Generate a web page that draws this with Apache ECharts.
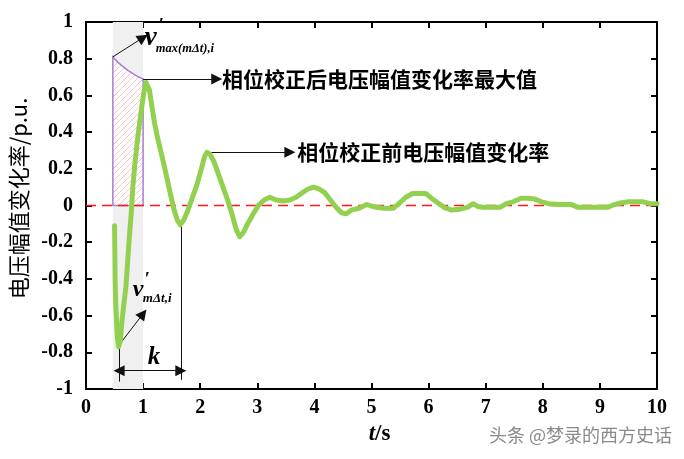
<!DOCTYPE html>
<html>
<head>
<meta charset="utf-8">
<script src="https://cdn.jsdelivr.net/npm/echarts@6/dist/echarts.min.js"></script>
<style>
  html, body { margin: 0; padding: 0; background: #fff; }
  #chart { width: 684px; height: 459px; }
</style>
</head>
<body>
<div id="chart"></div>
<script>
// 电压幅值变化率曲线 (t/s, p.u.)
const curveT = [0.50, 0.505, 0.51, 0.52, 0.535, 0.55, 0.57, 0.60, 0.63, 0.67, 0.70, 0.73, 0.76, 0.79, 0.82, 0.86, 0.91, 0.96,
  1.01, 1.05, 1.08, 1.11, 1.15, 1.20, 1.26, 1.33, 1.41, 1.48, 1.54, 1.60, 1.65, 1.71, 1.78, 1.86, 1.94,
  2.02, 2.08, 2.12, 2.17, 2.24, 2.32, 2.40, 2.48, 2.56, 2.63, 2.69, 2.75, 2.83, 2.92,
  3.02, 3.12, 3.22, 3.33, 3.45, 3.57, 3.68, 3.79, 3.89, 3.98,
  4.08, 4.18, 4.28, 4.38, 4.48, 4.56, 4.65, 4.78, 4.92,
  5.08, 5.22, 5.38, 5.48, 5.60, 5.72, 5.84, 5.95,
  6.05, 6.16, 6.27, 6.40, 6.55, 6.68, 6.78, 6.86, 6.95,
  7.10, 7.25, 7.36, 7.48, 7.62, 7.74, 7.86, 7.98,
  8.10, 8.30, 8.50, 8.62, 8.80, 9.00, 9.14, 9.25, 9.38, 9.50, 9.64, 9.76, 9.88, 10.00];
const curveV = [-0.11, -0.25, -0.40, -0.53, -0.63, -0.72, -0.77, -0.74, -0.63, -0.52, -0.44, -0.30, -0.17, -0.05, 0.10, 0.24, 0.38, 0.50,
  0.61, 0.67, 0.67, 0.63, 0.55, 0.45, 0.36, 0.27, 0.16, 0.06, -0.02, -0.08, -0.105, -0.08, -0.03, 0.04, 0.11,
  0.20, 0.27, 0.29, 0.28, 0.24, 0.17, 0.10, 0.03, -0.05, -0.13, -0.17, -0.15, -0.10, -0.05,
  0.00, 0.03, 0.045, 0.03, 0.025, 0.03, 0.045, 0.07, 0.09, 0.10,
  0.09, 0.07, 0.03, -0.01, -0.04, -0.045, -0.025, -0.015, 0.005,
  -0.01, -0.015, -0.015, 0.01, 0.045, 0.065, 0.065, 0.065,
  0.04, 0.015, -0.01, -0.025, -0.02, -0.01, 0.01, -0.005, -0.01,
  -0.01, -0.01, 0.01, 0.02, 0.04, 0.04, 0.035, 0.02,
  0.01, 0.005, 0.005, -0.01, -0.01, -0.01, -0.01, 0.005, 0.015, 0.02, 0.02, 0.02, 0.01, 0.01];

// 阴影区间 (灰色) 与 斜线填充区域上边界
const bandT = [0.47, 1.0];
const hatchT = [0.47, 0.56, 0.65, 0.74, 0.83, 0.92, 1.0];
const hatchV = [0.81, 0.78, 0.757, 0.735, 0.717, 0.70, 0.69];

// 标注箭头 [起点, 终点]
const arrows = [
  [[0.47, 0.81], [1.0, 0.915]],
  [[1.0, 0.69], [2.29, 0.69]],
  [[2.12, 0.29], [3.57, 0.29]],
  [[0.58, -0.76], [1.0, -0.59]]
];
const kArrow = [[0.58, -0.90], [1.66, -0.90]];
const guideLines = [
  [[0.58, -0.76], [0.58, -0.96]],
  [[1.66, -0.105], [1.66, -0.95]]
];

const xTicks = { min: 0, max: 10, step: 1 };
const yTicks = { min: -1, max: 1, step: 0.2 };

const curveData = curveT.map((t, i) => [t, curveV[i]]);

function makeHatch() {
  const c = document.createElement('canvas');
  c.width = 6; c.height = 6;
  const g = c.getContext('2d');
  g.fillStyle = '#fff';
  g.fillRect(0, 0, 6, 6);
  g.strokeStyle = '#f6c4cc';
  g.lineWidth = 1;
  g.beginPath();
  g.moveTo(-1, 7); g.lineTo(7, -1);
  g.moveTo(-1, 1); g.lineTo(1, -1);
  g.moveTo(5, 7); g.lineTo(7, 5);
  g.stroke();
  return c;
}
const hatchPattern = { image: makeHatch(), repeat: 'repeat' };

const serif = '"Liberation Serif", "Times New Roman", serif';
const cjk = '"Noto Sans CJK SC", sans-serif';

// 文字标注
const notes = [
  { t: 2.38, v: 0.69, kind: 'cn', text: '相位校正后电压幅值变化率最大值' },
  { t: 3.70, v: 0.29, kind: 'cn', text: '相位校正前电压幅值变化率' },
  { t: 1.03, v: 0.91, kind: 'v', sub: 'max(mΔt),i' },
  { t: 0.82, v: -0.46, kind: 'v', sub: 'mΔt,i' },
  { t: 1.19, v: -0.83, kind: 'k', text: 'k' }
];

function renderNote(params, api) {
  const a = notes[params.dataIndex];
  const p = api.coord([a.t, a.v]);
  if (a.kind === 'cn') {
    return { type: 'text', x: p[0], y: p[1], style: {
      text: a.text, fill: '#000', font: 'bold 21px ' + cjk, align: 'left', verticalAlign: 'middle' } };
  }
  if (a.kind === 'k') {
    return { type: 'text', x: p[0], y: p[1], style: {
      text: a.text, fill: '#000', font: 'italic bold 25px ' + serif, align: 'center', verticalAlign: 'middle' } };
  }
  const big = a.sub.length > 6;
  return { type: 'group', x: p[0], y: p[1], children: [
    { type: 'text', x: 0, y: 0, style: { text: 'v', fill: '#000', font: 'italic bold ' + (big ? 27 : 24) + 'px ' + serif, align: 'left', verticalAlign: 'middle' } },
    { type: 'text', x: big ? 14 : 12, y: big ? -12 : -10, style: { text: '′', fill: '#000', font: 'bold 19px ' + serif, align: 'left', verticalAlign: 'middle' } },
    { type: 'text', x: big ? 11 : 10, y: big ? 10 : 9, style: { text: a.sub, fill: '#000', font: 'italic bold ' + (big ? 12.5 : 13) + 'px ' + serif, align: 'left', verticalAlign: 'middle' } }
  ] };
}

function renderHatch(params, api) {
  const pts = [api.coord([hatchT[0], 0])];
  hatchT.forEach((t, i) => pts.push(api.coord([t, hatchV[i]])));
  pts.push(api.coord([hatchT[hatchT.length - 1], 0]));
  return { type: 'polygon', shape: { points: pts },
    style: { fill: hatchPattern, stroke: '#a77fd0', lineWidth: 1.5 } };
}

function renderZero(params, api) {
  const a = api.coord([xTicks.min, 0]);
  const b = api.coord([xTicks.max, 0]);
  return { type: 'line', shape: { x1: a[0], y1: a[1], x2: b[0], y2: b[1] },
    style: { stroke: '#ff1a1a', lineWidth: 1.5, lineDash: [10, 6] } };
}

const axisCommon = {
  type: 'value',
  axisLine: { show: true, onZero: false, lineStyle: { color: '#000', width: 2 } },
  axisTick: { show: true, inside: true, length: 6, lineStyle: { color: '#000', width: 2 } },
  splitLine: { show: false }
};

const chart = echarts.init(document.getElementById('chart'));
chart.setOption({
  animation: false,
  backgroundColor: '#fff',
  grid: { left: 86, right: 27, top: 22, bottom: 70 },
  xAxis: [
    Object.assign({}, axisCommon, {
      min: xTicks.min, max: xTicks.max, interval: xTicks.step, position: 'bottom',
      axisLabel: { color: '#000', fontFamily: serif, fontWeight: 'bold', fontSize: 20, margin: 9 },
      name: '{i|t}{n|/s}', nameLocation: 'middle', nameGap: 30,
      nameTextStyle: { padding: [0, 0, 0, 16], rich: {
        i: { fontFamily: serif, fontStyle: 'italic', fontWeight: 'bold', fontSize: 23, color: '#000' },
        n: { fontFamily: serif, fontWeight: 'bold', fontSize: 23, color: '#000' } } }
    }),
    Object.assign({}, axisCommon, {
      min: xTicks.min, max: xTicks.max, interval: xTicks.step, position: 'top', axisLabel: { show: false }
    })
  ],
  yAxis: [
    Object.assign({}, axisCommon, {
      min: yTicks.min, max: yTicks.max, interval: yTicks.step, position: 'left',
      axisLabel: { color: '#000', fontFamily: serif, fontWeight: 'bold', fontSize: 20, margin: 13,
        formatter: v => String(+v.toFixed(1)) },
      name: '电压幅值变化率/p.u.', nameLocation: 'middle', nameGap: 56, nameRotate: 90,
      nameTextStyle: { fontFamily: cjk, fontSize: 22, color: '#000', padding: [0, 0, 0, 14] }
    }),
    Object.assign({}, axisCommon, {
      min: yTicks.min, max: yTicks.max, interval: yTicks.step, position: 'right', axisLabel: { show: false }
    })
  ],
  series: [
    {
      name: 'band', type: 'line', data: [], z: 1, silent: true,
      markArea: { silent: true, itemStyle: { color: '#f0f0f0' },
        data: [[{ xAxis: bandT[0] }, { xAxis: bandT[1] }]] }
    },
    { name: 'hatch', type: 'custom', z: 2, silent: true, data: [[0, 0]], renderItem: renderHatch },
    { name: 'zero', type: 'custom', z: 3, silent: true, data: [[0, 0]], renderItem: renderZero },
    {
      name: '电压幅值变化率', type: 'line', data: curveData, z: 5, showSymbol: false, smooth: false,
      lineStyle: { color: '#92d050', width: 5, join: 'round', cap: 'round' }
    },
    {
      name: 'arrows', type: 'line', data: [], z: 6, silent: true,
      markLine: {
        silent: true, label: { show: false }, symbolSize: 11,
        lineStyle: { color: '#111', width: 1, type: 'solid' },
        data: arrows.map(a => [
          { coord: a[0], symbol: 'none' },
          { coord: a[1], symbol: 'triangle' }
        ]).concat(guideLines.map(a => [
          { coord: a[0], symbol: 'none' },
          { coord: a[1], symbol: 'none' }
        ])).concat([[
          { coord: kArrow[0], symbol: 'triangle' },
          { coord: kArrow[1], symbol: 'triangle' }
        ]])
      }
    },
    { name: 'notes', type: 'custom', z: 7, silent: true, data: notes.map((n, i) => [i, 0]), renderItem: renderNote }
  ],
  graphic: [{
    type: 'text', right: 12, top: 426,
    style: { text: '头条 @梦录的西方史话', fill: '#8a8a8a', font: '18px ' + cjk }
  }]
});
</script>
</body>
</html>
